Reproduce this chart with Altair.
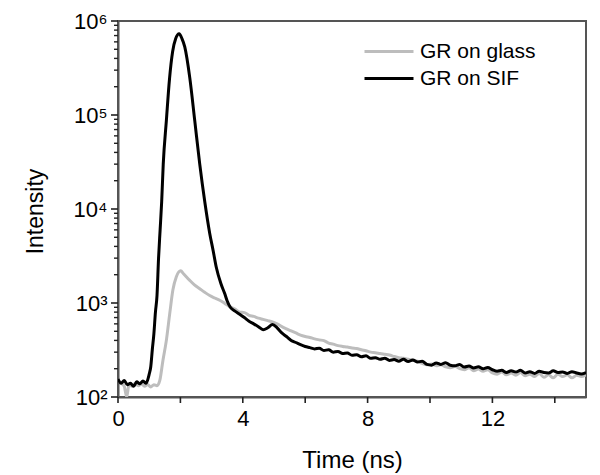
import altair as alt
import pandas as pd

series_names = ["GR on glass", "GR on SIF"]
series_colors = ["#bdbdbd", "#000000"]

glass_t = [0.00, 0.10, 0.20, 0.28, 0.35, 0.45, 0.55, 0.65, 0.75, 0.85, 0.95, 1.05, 1.15, 1.25,
           1.34, 1.44, 1.55, 1.66, 1.76, 1.87, 2.01, 2.10, 2.30, 2.45, 2.62, 2.78, 2.94, 3.10,
           3.26, 3.42, 3.58, 3.75, 3.90, 4.05, 4.20, 4.35, 4.50, 4.65, 4.80, 4.95, 5.10, 5.25,
           5.40, 5.55, 5.70, 5.85, 6.00, 6.15, 6.30, 6.45, 6.60, 6.75, 6.90, 7.05, 7.20, 7.35,
           7.50, 7.65, 7.80, 7.95, 8.10, 8.25, 8.40, 8.55, 8.70, 8.85, 9.00, 9.15, 9.30, 9.45,
           9.60, 9.75, 9.90, 10.05, 10.20, 10.35, 10.50, 10.65, 10.80, 10.95, 11.10, 11.25,
           11.40, 11.55, 11.70, 11.85, 12.00, 12.15, 12.30, 12.45, 12.60, 12.75, 12.90, 13.05,
           13.20, 13.35, 13.50, 13.65, 13.80, 13.95, 14.10, 14.25, 14.40, 14.55, 14.70, 14.85,
           15.00]
glass_v = [150, 140, 130, 100, 135, 130, 140, 132, 138, 130, 136, 128, 135, 132,
           150, 245, 400, 780, 1380, 1900, 2200, 2050, 1740, 1560, 1420, 1300, 1200, 1130,
           1070, 990, 915, 860, 800, 790, 740, 720, 690, 670, 650, 630, 600, 560,
           530, 505, 480, 455, 440, 430, 415, 405, 398, 375, 365, 352, 345, 340,
           332, 328, 318, 310, 300, 296, 290, 285, 280, 270, 262, 258, 252, 246,
           240, 228, 220, 225, 215, 220, 210, 205, 212, 200, 195, 205,
           190, 198, 188, 195, 180, 175, 185, 172, 180, 170, 182, 168,
           175, 165, 178, 162, 172, 160, 175, 165, 172, 160, 170, 165,
           172]

sif_t = [0.00, 0.10, 0.20, 0.30, 0.40, 0.50, 0.60, 0.70, 0.80, 0.90, 1.00, 1.05, 1.10, 1.15,
         1.20, 1.25, 1.30, 1.35, 1.40, 1.45, 1.55, 1.65, 1.75, 1.85, 1.96, 2.05, 2.14, 2.30,
         2.46, 2.62, 2.78, 2.94, 3.05, 3.15, 3.30, 3.42, 3.50,
         3.60, 3.75, 3.90, 4.05, 4.20, 4.35, 4.50, 4.65, 4.80, 4.95, 5.10, 5.25, 5.40, 5.55,
         5.70, 5.85, 6.00, 6.15, 6.30, 6.45, 6.60, 6.75, 6.90, 7.05, 7.20, 7.35, 7.50, 7.65,
         7.80, 7.95, 8.10, 8.25, 8.40, 8.55, 8.70, 8.85, 9.00, 9.15, 9.30, 9.45, 9.60, 9.75,
         9.90, 10.05, 10.20, 10.35, 10.50, 10.65, 10.80, 10.95, 11.10, 11.25, 11.40, 11.55,
         11.70, 11.85, 12.00, 12.15, 12.30, 12.45, 12.60, 12.75, 12.90, 13.05, 13.20, 13.35,
         13.50, 13.65, 13.80, 13.95, 14.10, 14.25, 14.40, 14.55, 14.70, 14.85, 15.00]
sif_v = [155, 140, 150, 135, 140, 130, 145, 138, 148, 140, 175, 210, 320, 470,
         800, 1200, 3000, 6000, 12000, 30000, 87000, 240000, 470000, 650000, 730000, 650000, 530000, 250000,
         87000, 30000, 12000, 5500, 3600, 2400, 1600, 1260, 1050,
         900, 820, 760, 700, 640, 600, 560, 520, 545, 590, 545, 480, 440, 400,
         380, 360, 345, 335, 325, 330, 312, 318, 300, 305, 290, 294, 278, 282,
         268, 274, 258, 262, 252, 258, 245, 250, 240, 252, 238, 248, 236, 240,
         222, 218, 230, 222, 232, 218, 215, 222, 208, 214, 204, 210,
         200, 206, 195, 188, 192, 182, 190, 184, 192, 180, 186, 178,
         188, 182, 180, 190, 182, 185, 178, 186, 180, 176, 182]

x_ticks = [0, 2, 4, 6, 8, 10, 12, 14]
y_major = [100, 1000, 10000, 100000, 1000000]
y_minor = [k * 10 ** d for d in range(2, 6) for k in range(2, 10)]

df = pd.concat([
    pd.DataFrame({"t": glass_t, "v": glass_v, "s": series_names[0]}),
    pd.DataFrame({"t": sif_t, "v": sif_v, "s": series_names[1]}),
], ignore_index=True)

FONT = "Liberation Sans"
W, H = 468, 376
TICK = "#222"

y_label_expr = ("datum.value == 100 ? '10²' : datum.value == 1000 ? '10³' : "
                "datum.value == 10000 ? '10⁴' : datum.value == 100000 ? '10⁵' : "
                "datum.value == 1000000 ? '10⁶' : ''")

x_scale = alt.Scale(domain=[0, 15], nice=False, zero=False)
y_scale = alt.Scale(type="log", domain=[100, 1000000], nice=False)

x_axis = alt.Axis(title="Time (ns)", values=x_ticks,
                  labelExpr="datum.value % 4 == 0 ? datum.label : ''",
                  ticks=False, labelFlush=False, labelOverlap=False,
                  labelPadding=11, labelFontSize=22, titleFontSize=24,
                  titlePadding=19, grid=False)
y_axis = alt.Axis(title="Intensity", values=y_major, labelExpr=y_label_expr,
                  ticks=False, labelFlush=False, labelOverlap=False, labelBound=False,
                  labelPadding=11, labelFontSize=22, titleFontSize=23,
                  titleAngle=270, titleX=-83, titleY=190,
                  titleAlign="center", titleBaseline="middle",
                  grid=False)

lines = alt.Chart(df).mark_line(strokeWidth=3, clip=True, interpolate="monotone").encode(
    x=alt.X("t:Q", scale=x_scale, axis=x_axis),
    y=alt.Y("v:Q", scale=y_scale, axis=y_axis),
    color=alt.Color("s:N",
                    scale=alt.Scale(domain=series_names, range=series_colors),
                    legend=alt.Legend(title=None, orient="none", legendX=245, legendY=17,
                                      symbolType="stroke", symbolSize=2401,
                                      symbolStrokeWidth=3, clipHeight=27,
                                      labelFontSize=21, labelFont=FONT,
                                      labelOffset=5, padding=0, rowPadding=0)),
)

y_major_ticks = alt.Chart(pd.DataFrame({"v": y_major})).mark_rule(
    color=TICK, strokeWidth=1.6).encode(
    y=alt.Y("v:Q", scale=y_scale, axis=y_axis),
    x=alt.value(-7), x2=alt.value(0))

y_minor_ticks = alt.Chart(pd.DataFrame({"v": y_minor})).mark_rule(
    color=TICK, strokeWidth=1.4).encode(
    y=alt.Y("v:Q", scale=y_scale, axis=y_axis),
    x=alt.value(-4), x2=alt.value(0))

x_tick_marks = alt.Chart(pd.DataFrame({"t": x_ticks})).mark_rule(
    color=TICK, strokeWidth=1.6).encode(
    x=alt.X("t:Q", scale=x_scale, axis=x_axis),
    y=alt.value(H), y2=alt.value(H + 6))

chart = alt.layer(lines, y_major_ticks, y_minor_ticks, x_tick_marks).properties(
    width=W, height=H,
    autosize=alt.AutoSizeParams(type="none"),
    padding={"left": 110, "top": 13, "right": 6, "bottom": 80},
    background="white",
).configure_view(
    stroke="#555", strokeWidth=2
).configure_axis(
    labelFont=FONT, titleFont=FONT, labelColor="#000", titleColor="#000",
    titleFontWeight="normal", domainColor="#555", domainWidth=2
)

chart.save("out.html", embed_options={"renderer": "svg", "actions": False})
